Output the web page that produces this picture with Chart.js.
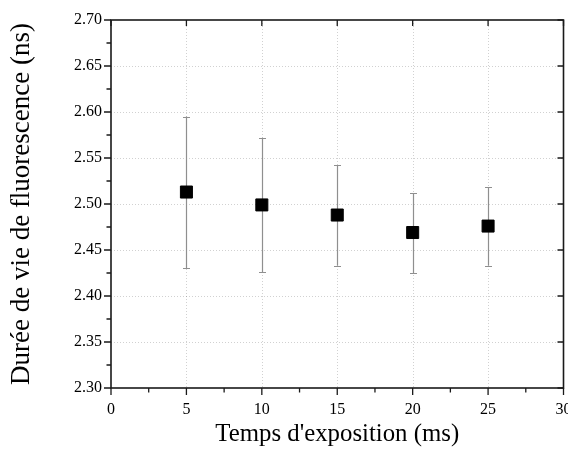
<!DOCTYPE html>
<html>
<head>
<meta charset="utf-8">
<script src="https://cdn.jsdelivr.net/npm/chart.js@4"></script>
<style>
  html, body { margin: 0; padding: 0; background: white; overflow: hidden; }
  canvas { display: block; }
</style>
</head>
<body>
<!-- a bit wider than the window so the last x label gets clipped like the original -->
<canvas id="chart" width="573" height="453"></canvas>
<script>
'use strict';

// exposure time (ms) and measured lifetime (ns), with error bar ends
const exposure = [5, 10, 15, 20, 25];
const lifetime = [2.513, 2.499, 2.488, 2.469, 2.476];
const errLow = [2.430, 2.426, 2.433, 2.425, 2.433];
const errHigh = [2.595, 2.572, 2.542, 2.512, 2.518];

const xTitle = "Temps d'exposition (ms)";
const yTitle = 'Durée de vie de fluorescence (ns)';

const serif = 'Liberation Serif';

// frame, dotted grid, origin-style ticks and error bars
const framePlugin = {
  id: 'frame',
  beforeDatasetsDraw(chart) {
    const ctx = chart.ctx;
    const area = chart.chartArea;
    const x = chart.scales.x;
    const y = chart.scales.y;

    ctx.save();
    ctx.strokeStyle = 'rgba(0,0,0,0.18)';
    ctx.lineWidth = 1;
    ctx.setLineDash([1, 2]);
    x.ticks.forEach((t) => {
      const px = Math.round(x.getPixelForValue(t.value)) + 0.5;
      if (px <= area.left + 1 || px >= area.right - 1) return;
      ctx.beginPath();
      ctx.moveTo(px, area.top);
      ctx.lineTo(px, area.bottom);
      ctx.stroke();
    });
    y.ticks.forEach((t) => {
      const py = Math.round(y.getPixelForValue(t.value)) + 0.5;
      if (py <= area.top + 1 || py >= area.bottom - 1) return;
      ctx.beginPath();
      ctx.moveTo(area.left, py);
      ctx.lineTo(area.right, py);
      ctx.stroke();
    });
    ctx.setLineDash([]);

    // error bars
    const meta = chart.getDatasetMeta(0);
    ctx.strokeStyle = '#8f8f8f';
    ctx.lineWidth = 1.2;
    meta.data.forEach((pt, i) => {
      const px = Math.round(pt.x) + 0.5;
      const top = y.getPixelForValue(errHigh[i]);
      const bot = y.getPixelForValue(errLow[i]);
      ctx.beginPath();
      ctx.moveTo(px, top);
      ctx.lineTo(px, bot);
      ctx.moveTo(px - 3.5, Math.round(top) + 0.5);
      ctx.lineTo(px + 3.5, Math.round(top) + 0.5);
      ctx.moveTo(px - 3.5, Math.round(bot) + 0.5);
      ctx.lineTo(px + 3.5, Math.round(bot) + 0.5);
      ctx.stroke();
    });
    ctx.restore();
  },
  afterDraw(chart) {
    const ctx = chart.ctx;
    const area = chart.chartArea;
    const x = chart.scales.x;
    const y = chart.scales.y;
    const xStep = 5;
    const yStep = 0.05;

    ctx.save();
    ctx.strokeStyle = '#1a1a1a';
    ctx.lineWidth = 1.6;
    ctx.strokeRect(area.left, area.top, area.right - area.left, area.bottom - area.top);

    ctx.lineWidth = 1.3;
    ctx.beginPath();
    x.ticks.forEach((t) => {
      const px = x.getPixelForValue(t.value);
      ctx.moveTo(px, area.bottom);
      ctx.lineTo(px, area.bottom + 7);
      ctx.moveTo(px, area.top);
      ctx.lineTo(px, area.top + 6);
      if (t.value + xStep / 2 < x.max) {
        const pm = x.getPixelForValue(t.value + xStep / 2);
        ctx.moveTo(pm, area.bottom);
        ctx.lineTo(pm, area.bottom + 4.5);
      }
    });
    y.ticks.forEach((t) => {
      const py = y.getPixelForValue(t.value);
      ctx.moveTo(area.left, py);
      ctx.lineTo(area.left - 7, py);
      ctx.moveTo(area.right, py);
      ctx.lineTo(area.right - 6, py);
      if (t.value + yStep / 2 < y.max) {
        const pm = y.getPixelForValue(t.value + yStep / 2);
        ctx.moveTo(area.left, pm);
        ctx.lineTo(area.left - 4.5, pm);
      }
    });
    ctx.stroke();
    ctx.restore();
  }
};

const ctx = document.getElementById('chart').getContext('2d');
new Chart(ctx, {
  type: 'scatter',
  data: {
    datasets: [{
      label: 'lifetime',
      data: exposure.map((e, i) => ({ x: e, y: lifetime[i] })),
      pointStyle: 'rect',
      pointRadius: 8.5,
      pointHoverRadius: 8.5,
      backgroundColor: '#000',
      borderColor: '#000',
      borderWidth: 1
    }]
  },
  options: {
    responsive: false,
    animation: false,
    layout: { padding: { left: 0, right: 6, top: 20, bottom: 0 } },
    plugins: {
      legend: { display: false },
      tooltip: { enabled: false }
    },
    scales: {
      x: {
        type: 'linear',
        min: 0,
        max: 30,
        grid: { display: false, drawTicks: false },
        border: { display: false },
        ticks: {
          stepSize: 5,
          padding: 12,
          color: '#000',
          font: { family: serif, size: 16 }
        },
        title: {
          display: true,
          text: xTitle,
          color: '#000',
          font: { family: serif, size: 24.8 },
          padding: { top: 0, bottom: 4 }
        },
        afterFit(scale) {
          scale.height = 65;
          scale.paddingLeft = 0;
          scale.paddingRight = 0;
        }
      },
      y: {
        min: 2.30,
        max: 2.70,
        grid: { display: false, drawTicks: false },
        border: { display: false },
        ticks: {
          stepSize: 0.05,
          padding: 9,
          color: '#000',
          font: { family: serif, size: 16 },
          callback: (v) => v.toFixed(2)
        },
        title: {
          display: true,
          text: yTitle,
          color: '#000',
          font: { family: serif, size: 27 },
          padding: { top: 6, bottom: 0 }
        },
        afterFit(scale) {
          scale.width = 111;
        }
      }
    }
  },
  plugins: [framePlugin]
});
</script>
</body>
</html>
